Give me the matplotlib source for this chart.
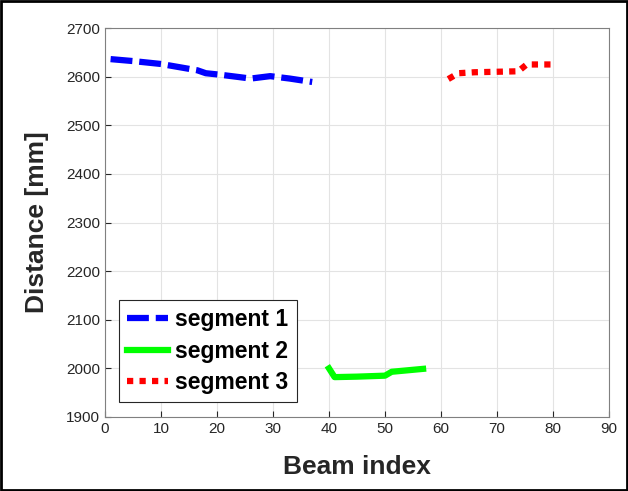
import matplotlib
matplotlib.use('Agg')
import matplotlib.pyplot as plt
from matplotlib.patches import Rectangle

plt.rcParams['font.family'] = ['Liberation Sans', 'DejaVu Sans']

# segment data (beam index, distance in mm)
seg1_x = [1, 5, 10, 13, 16.5, 18, 20.5, 24, 26, 29.5, 33, 37]
seg1_y = [2636, 2632, 2626, 2620, 2613, 2607, 2604, 2599, 2596, 2601, 2596, 2589]
seg2_x = [40, 41, 45, 50, 51.2, 54, 56.8]
seg2_y = [2000, 1982, 1983, 1985, 1993, 1996, 1999]
seg3_x = [61.3, 63.1, 66, 70, 73.8, 75.3, 77, 79.8]
seg3_y = [2595, 2607, 2609, 2610, 2611, 2625, 2625, 2625]

fig = plt.figure(figsize=(6.28, 4.91), dpi=100)
ax = fig.add_axes([105 / 628, 1 - 417 / 491, 504 / 628, 389 / 491])

ax.plot(seg1_x, seg1_y, color='#0000ff', lw=4.5, linestyle=(0, (3.5, 1.1)),
        dash_capstyle='butt', label='segment 1')
ax.plot(seg2_x, seg2_y, color='#00ff00', lw=4.5, linestyle='-', label='segment 2')
ax.plot(seg3_x, seg3_y, color='#ff0000', lw=4.5, linestyle=(0, (1, 1)),
        dash_capstyle='butt', label='segment 3')

ax.set_xlim(0, 90)
ax.set_ylim(1900, 2700)
ax.set_xticks(range(0, 91, 10))
ax.set_yticks(range(1900, 2701, 100))
ax.grid(True, color='#e3e3e3', lw=0.8)
ax.set_axisbelow(True)
ax.tick_params(direction='in', length=4, labelsize=11, colors='#262626')
for s in ax.spines.values():
    s.set_color('#808080')

ax.set_xlabel('Beam index', fontsize=19, fontweight='bold', color='#262626', labelpad=14)
ax.set_ylabel('Distance [mm]', fontsize=19, fontweight='bold', color='#262626', labelpad=12)

leg = ax.legend(loc='lower left', bbox_to_anchor=(0.028, 0.039), borderaxespad=0,
                prop={'weight': 'bold', 'size': 16.5}, handlelength=1.8,
                handletextpad=0.3, borderpad=0.35, labelspacing=0.36,
                fancybox=False, framealpha=1)
leg.get_frame().set_edgecolor('#262626')
leg.get_frame().set_linewidth(0.8)

fig.patches.append(Rectangle((0.002, 0.003), 0.996, 0.994, transform=fig.transFigure,
                             fill=False, edgecolor='black', lw=2))

fig.savefig('out.png', dpi=100)
